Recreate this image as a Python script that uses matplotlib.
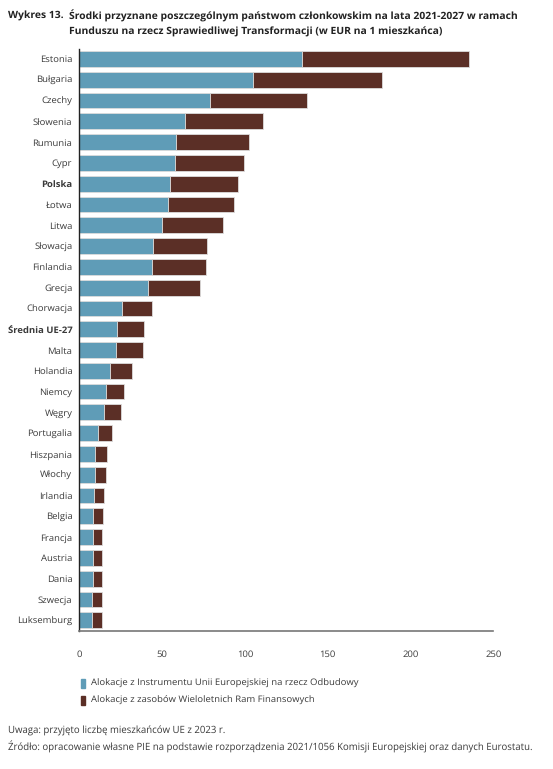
import matplotlib
matplotlib.use("Agg")
from matplotlib import pyplot as plt
from matplotlib.patches import Rectangle
import numpy as np

plt.rcParams['font.family'] = ['Open Sans', 'DejaVu Sans']
plt.rcParams['text.hinting'] = 'no_hinting'

countries = ["Estonia", "Bułgaria", "Czechy", "Słowenia", "Rumunia", "Cypr", "Polska",
             "Łotwa", "Litwa", "Słowacja", "Finlandia", "Grecja", "Chorwacja",
             "Średnia UE-27", "Malta", "Holandia", "Niemcy", "Węgry", "Portugalia",
             "Hiszpania", "Włochy", "Irlandia", "Belgia", "Francja", "Austria",
             "Dania", "Szwecja", "Luksemburg"]
# allocation from NextGenerationEU (EUR per capita)
ngeu = [134.5, 105.1, 78.9, 63.8, 58.6, 57.6, 54.8, 53.8, 49.9, 44.3, 43.9, 41.7, 25.8,
        23.0, 22.2, 18.7, 15.9, 14.7, 11.3, 9.5, 9.5, 8.7, 8.5, 8.3, 8.1, 8.1, 7.9, 7.9]
# allocation from MFF
mff = [100.8, 77.9, 58.8, 47.3, 43.9, 42.0, 41.0, 39.8, 37.1, 33.0, 32.4, 31.2, 18.3,
       16.3, 16.1, 13.3, 11.3, 10.3, 8.3, 7.0, 6.6, 6.0, 5.8, 5.6, 5.6, 5.6, 5.6, 5.8]
bold_labels = ["Polska", "Średnia UE-27"]
legend_labels = ["Alokacje z Instrumentu Unii Europejskiej na rzecz Odbudowy",
                 "Alokacje z zasobów Wieloletnich Ram Finansowych"]

blue = "#5f9cb7"
brown = "#5b2f26"
txt = "#3a3a3a"

fig = plt.figure(figsize=(5.53, 7.69), dpi=100)
ax = fig.add_axes([0.1434, 0.1799, 0.7486, 0.757])

y = np.arange(len(countries))
ax.barh(y, ngeu, height=0.76, color=blue, edgecolor="#dcdcdc", linewidth=0.6)
ax.barh(y, mff, left=ngeu, height=0.76, color=brown, edgecolor="#dcdcdc", linewidth=0.6)

ax.set_ylim(len(countries) - 0.5, -0.5)
ax.set_xlim(0, 250)
ax.set_xticks([0, 50, 100, 150, 200, 250])
ax.set_yticks(y)
ax.set_yticklabels(countries)
for lab in ax.get_yticklabels():
    if lab.get_text() in bold_labels:
        lab.set_fontweight("bold")
        lab.set_color("#111111")
ax.tick_params(axis="both", length=0, labelsize=6.8, colors=txt)
ax.tick_params(axis="y", pad=5)
ax.tick_params(axis="x", pad=14)

for s in ["top", "right"]:
    ax.spines[s].set_visible(False)
ax.spines["left"].set_color("#222222")
ax.spines["left"].set_linewidth(1.0)
ax.spines["bottom"].set_color("#777777")
ax.spines["bottom"].set_linewidth(1.2)

# title
fig.text(8 / 553, 1 - 16 / 769, "Wykres 13.", fontsize=7.5, fontweight="bold",
         color="#222222", va="center")
fig.text(69 / 553, 1 - 16 / 769,
         "Środki przyznane poszczególnym państwom członkowskim na lata 2021-2027 w ramach",
         fontsize=7.5, fontweight="bold", color="#222222", va="center")
fig.text(69 / 553, 1 - 32 / 769,
         "Funduszu na rzecz Sprawiedliwej Transformacji (w EUR na 1 mieszkańca)",
         fontsize=7.5, fontweight="bold", color="#222222", va="center")

# legend
for i, (lab, c) in enumerate(zip(legend_labels, [blue, brown])):
    yy = 683 + i * 17
    fig.patches.append(Rectangle((81 / 553, 1 - (yy + 4.5) / 769), 3.5 / 553, 9 / 769,
                                 transform=fig.transFigure, color=c))
    fig.text(91 / 553, 1 - yy / 769, lab, fontsize=6.8, color=txt, va="center")

# notes
fig.text(8 / 553, 1 - 731 / 769, "Uwaga: przyjęto liczbę mieszkańców UE z 2023 r.",
         fontsize=6.9, color=txt, va="center")
fig.text(8 / 553, 1 - 747 / 769,
         "Źródło: opracowanie własne PIE na podstawie rozporządzenia 2021/1056 Komisji Europejskiej oraz danych Eurostatu.",
         fontsize=6.9, color=txt, va="center")

fig.savefig("out.png", dpi=100)
